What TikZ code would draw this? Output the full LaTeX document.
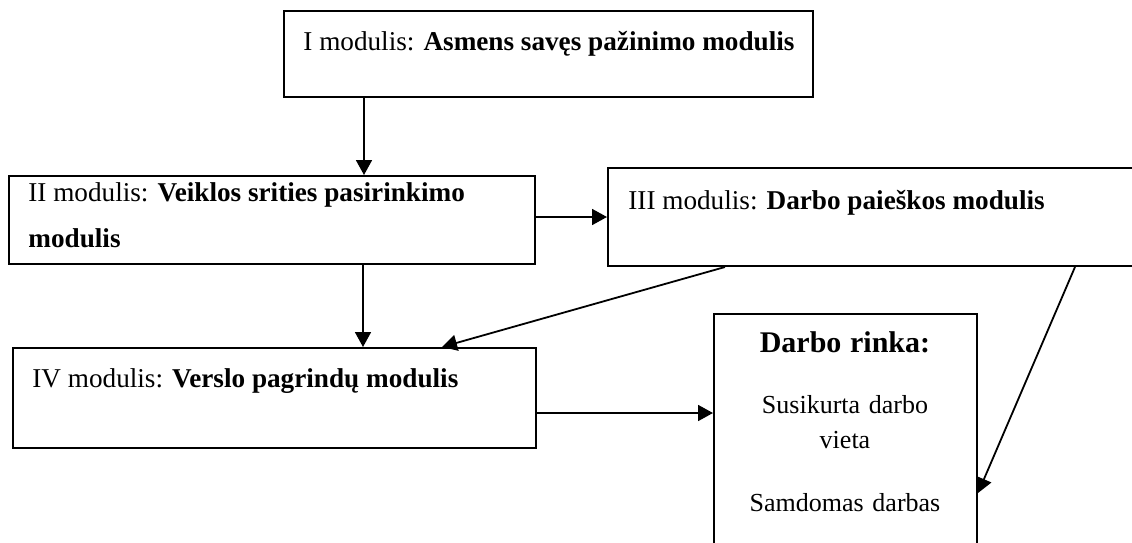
\documentclass[tikz,border=0pt]{standalone}
\usepackage{fontspec}
\setmainfont{Liberation Serif}
\usetikzlibrary{arrows.meta,positioning,calc}

\begin{document}
\begin{tikzpicture}[x=0.5pt,y=-0.5pt,
  modbox/.style={draw=black,line width=1pt,anchor=north west,inner sep=0pt},
  modtext/.style={font=\fontsize{13.6}{23}\selectfont,inner sep=0pt,anchor=base west},
  flow/.style={-{Triangle[length=7.5pt,width=8pt]},line width=0.9pt}
]
\useasboundingbox (0,0) rectangle (1132,542);
\clip (0,0) rectangle (1132,542);
% module boxes
\node[modbox,minimum width=264.5pt,minimum height=43pt] (b1) at (283,10) {};
\node[modbox,minimum width=263pt,minimum height=44pt] (b2) at (8,175) {};
\node[modbox,minimum width=280pt,minimum height=49pt] (b3) at (607,167) {};
\node[modbox,minimum width=261.5pt,minimum height=50pt] (b4) at (12,347) {};
\node[modbox,minimum width=131.5pt,minimum height=130pt] (b5) at (713,313) {};
% texts
\node[modtext] (t1) at (303,50) {I modulis: \textbf{Asmens savęs pažinimo modulis}};
\node[modtext,align=left,anchor=north west] (t2) at (28,182)
  {II modulis: \textbf{Veiklos srities pasirinkimo}\\\textbf{modulis}};
\node[modtext] (t3) at (628,209) {III modulis: \textbf{Darbo paieškos modulis}};
\node[modtext] (t4) at (32,387) {IV modulis: \textbf{Verslo pagrindų modulis}};
\node[font=\fontsize{13}{17.5}\selectfont,inner sep=0pt,anchor=base,
      text width=131pt,align=center] (t5) at (845,352)
  {{\fontsize{15}{17.5}\selectfont\bfseries Darbo rinka:}\\[13pt]
   Susikurta darbo\\vieta\\[14pt]Samdomas darbas};
% connectors
\coordinate (p12) at ($(b1.south west)+(81,0)$);
\coordinate (p24) at ($(b2.south west)+(355,0)$);
\coordinate (p34) at ($(b3.south west)+(118,0)$);
\coordinate (q34) at ($(b4.north west)+(430,0)$);
\coordinate (p35) at ($(b3.south west)+(468,0)$);
\coordinate (q35) at ($(b5.north east)+(0,180)$);
\coordinate (p45) at ($(b4.north east)+(0,66)$);
\draw[flow] (p12) -- (p12 |- b2.north);
\draw[flow] (b2.east |- b3.west) -- (b3.west);
\draw[flow] (p24) -- (p24 |- b4.north);
\draw[flow] (p34) -- (q34);
\draw[flow] (p35) -- (q35);
\draw[flow] (p45) -- (p45 -| b5.west);
\end{tikzpicture}
\end{document}
